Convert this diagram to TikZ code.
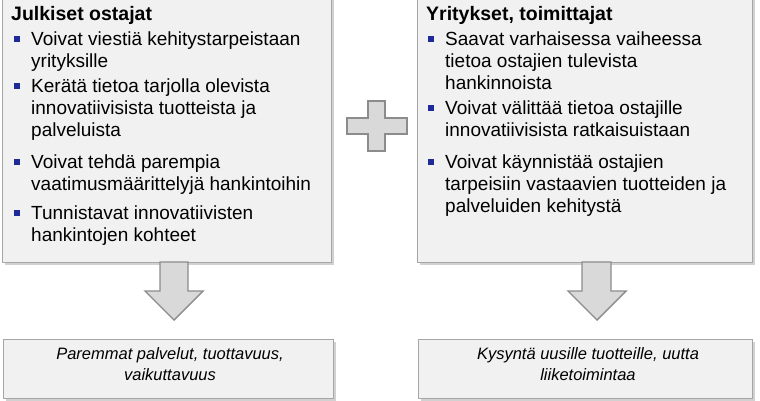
\documentclass[tikz,border=0pt]{standalone}
\usepackage{fontspec}
\setmainfont{Liberation Sans}
\usetikzlibrary{shadows}
\definecolor{boxfill}{HTML}{F1F1F1}
\definecolor{boxline}{HTML}{A6A6A6}
\definecolor{bul}{HTML}{1F2A9A}
\definecolor{arrfill}{HTML}{D9D9D9}
\definecolor{arrline}{HTML}{8C8C8C}
\begin{document}
\begin{tikzpicture}[x=1pt,y=-1pt,
  panel/.style={draw=boxline,fill=boxfill,line width=1.2pt,drop shadow={shadow xshift=2pt,shadow yshift=-2pt,fill=black!30,opacity=.6}},
  shape3d/.style={draw=arrline,fill=arrfill,line width=1.4pt},
  txt/.style={anchor=base west,inner sep=0pt,font=\fontsize{19}{22}\selectfont},
  ttl/.style={anchor=base west,inner sep=0pt,font=\fontsize{19.5}{22}\selectfont\bfseries},
  res/.style={anchor=base,inner sep=0pt,font=\fontsize{16.5}{20}\selectfont\itshape},
  bulsq/.style={fill=bul,minimum size=5.5pt,inner sep=0pt}]
\useasboundingbox (0,0) rectangle (760,400);
% panels
\node[panel,minimum width=329pt,minimum height=266pt,anchor=north west,inner sep=0pt] (L) at (2,-4) {};
\node[panel,minimum width=335pt,minimum height=266pt,anchor=north west,inner sep=0pt] (R) at (417,-4) {};
\node[panel,minimum width=330pt,minimum height=59pt,anchor=north west,inner sep=0pt] (LB) at (3,339) {};
\node[panel,minimum width=334pt,minimum height=59pt,anchor=north west,inner sep=0pt] (RB) at (418,339) {};
% plus
\draw[shape3d] (368,101) -- (385,101) -- (385,118) -- (407,118) -- (407,134) -- (385,134) -- (385,151) -- (368,151) -- (368,134) -- (347,134) -- (347,118) -- (368,118) -- cycle;
% arrows
\draw[shape3d] (160,262) -- (188,262) -- (188,291) -- (203,291) -- (174,320) -- (145,291) -- (160,291) -- cycle;
\draw[shape3d] (582,262) -- (611,262) -- (611,291) -- (626,291) -- (597,320) -- (568,291) -- (582,291) -- cycle;
% left text
\node[ttl] (lt) at (11,20) {Julkiset ostajat};
\foreach \y in {39,86,162,213} \node[bulsq] at (17,\y) {};
\node[txt] (l1) at (31,45) {Voivat viestiä kehitystarpeistaan};
\node[txt] (l2) at (31,67) {yrityksille};
\node[txt] (l3) at (31,92) {Kerätä tietoa tarjolla olevista};
\node[txt] (l4) at (31,114) {innovatiivisista tuotteista ja};
\node[txt] (l5) at (31,136) {palveluista};
\node[txt] (l6) at (31,168) {Voivat tehdä parempia};
\node[txt] (l7) at (31,190) {vaatimusmäärittelyjä hankintoihin};
\node[txt] (l8) at (31,219) {Tunnistavat innovatiivisten};
\node[txt] (l9) at (31,241) {hankintojen kohteet};
% right text
\node[ttl] (rt) at (426,20) {Yritykset, toimittajat};
\foreach \y in {39,108,162} \node[bulsq] at (431,\y) {};
\node[txt] (r1) at (445,45) {Saavat varhaisessa vaiheessa};
\node[txt] (r2) at (445,67) {tietoa ostajien tulevista};
\node[txt] (r3) at (445,89) {hankinnoista};
\node[txt] (r4) at (445,114) {Voivat välittää tietoa ostajille};
\node[txt] (r5) at (445,136) {innovatiivisista ratkaisuistaan};
\node[txt] (r6) at (445,168) {Voivat käynnistää ostajien};
\node[txt] (r7) at (445,190) {tarpeisiin vastaavien tuotteiden ja};
\node[txt] (r8) at (445,212) {palveluiden kehitystä};
% results
\node[res] (b1) at (170,359) {Paremmat palvelut, tuottavuus,};
\node[res] (b2) at (170,380) {vaikuttavuus};
\node[res] (b3) at (588,359) {Kysyntä uusille tuotteille, uutta};
\node[res] (b4) at (588,380) {liiketoimintaa};
\end{tikzpicture}
\end{document}
